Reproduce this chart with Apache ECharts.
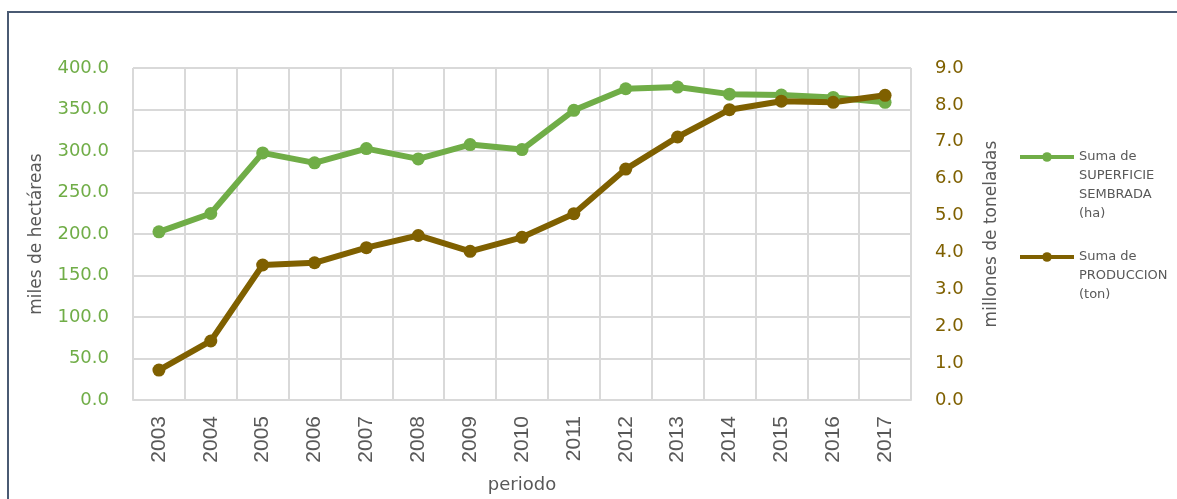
<!DOCTYPE html>
<html>
<head>
<meta charset="utf-8">
<script src="https://cdn.jsdelivr.net/npm/echarts@6/dist/echarts.min.js"></script>
<style>
html,body{margin:0;padding:0;background:#fff;}
#chart{width:1177px;height:499px;}
</style>
</head>
<body>
<div id="chart"></div>
<script>
const categories = ['2003','2004','2005','2006','2007','2008','2009','2010','2011','2012','2013','2014','2015','2016','2017'];
const superficie = [202.6, 224.7, 297.7, 285.7, 302.9, 290.5, 307.7, 301.7, 349.0, 375.0, 377.0, 368.5, 367.5, 364.5, 358.6];
const produccion = [0.81, 1.60, 3.66, 3.72, 4.13, 4.46, 4.03, 4.41, 5.05, 6.26, 7.13, 7.87, 8.10, 8.07, 8.26];
const nameSup = 'Suma de\nSUPERFICIE\nSEMBRADA\n(ha)';
const nameProd = 'Suma de\nPRODUCCION\n(ton)';

const GREEN = '#70AD47';
const BROWN = '#7F6000';
const GRAY = '#595959';
const GRID = '#D9D9D9';
const FONT = 'DejaVu Sans';

// prepend blank lines to a multi-line legend label so its first line sits level with the icon
function padLines(name) {
  const n = name.split('\n').length;
  let s = name;
  for (let i = 1; i < n; i++) s = ' \n' + s;
  return s;
}

const chart = echarts.init(document.getElementById('chart'), null, {renderer: 'canvas'});
const LH = 19;
const legendBase = {
  orient: 'vertical', left: 1018, padding: 0,
  itemWidth: 54, itemHeight: 12,
  lineStyle: {width: 4},
  formatter: padLines,
  textStyle: {fontFamily: FONT, fontSize: 13, color: GRAY, lineHeight: LH}
};
chart.setOption({
  backgroundColor: '#ffffff',
  animation: false,
  graphic: [{
    type: 'rect', silent: true,
    shape: {x: 8, y: 12, width: 1400, height: 700},
    style: {fill: 'none', stroke: '#4A5A73', lineWidth: 2}
  }],
  grid: {left: 133, right: 266, top: 68, bottom: 98, containLabel: false},
  legend: [
    Object.assign({}, legendBase, {data: [nameSup], top: 157 - 3.5 * LH}),
    Object.assign({}, legendBase, {data: [nameProd], top: 257 - 2.5 * LH})
  ],
  xAxis: {
    type: 'category', data: categories, boundaryGap: true,
    name: 'periodo', nameLocation: 'middle', nameGap: 76,
    nameTextStyle: {fontFamily: FONT, fontSize: 18, color: GRAY},
    axisLine: {show: true, lineStyle: {color: GRID, width: 2}},
    axisTick: {show: false},
    axisLabel: {rotate: 90, margin: 16, fontFamily: 'Liberation Sans', fontSize: 21, color: GRAY},
    splitLine: {show: true, lineStyle: {color: GRID, width: 2}}
  },
  yAxis: [{
    type: 'value', min: 0, max: 400, interval: 50, position: 'left',
    name: 'miles de hectáreas', nameLocation: 'middle', nameGap: 88, nameRotate: 90,
    nameTextStyle: {fontFamily: FONT, fontSize: 17, color: GRAY},
    axisLine: {show: false}, axisTick: {show: false},
    axisLabel: {margin: 24, fontFamily: FONT, fontSize: 18, color: GREEN,
      formatter: v => v.toFixed(1)},
    splitLine: {show: true, lineStyle: {color: GRID, width: 2}}
  }, {
    type: 'value', min: 0, max: 9, interval: 1, position: 'right',
    name: 'millones de toneladas', nameLocation: 'middle', nameGap: 72, nameRotate: 90,
    nameTextStyle: {fontFamily: FONT, fontSize: 17, color: GRAY},
    axisLine: {show: false}, axisTick: {show: false},
    axisLabel: {margin: 24, fontFamily: FONT, fontSize: 18, color: BROWN,
      formatter: v => v.toFixed(1)},
    splitLine: {show: false}
  }],
  series: [{
    name: nameSup, type: 'line', yAxisIndex: 0, data: superficie,
    symbol: 'circle', symbolSize: 13,
    lineStyle: {color: GREEN, width: 6}, itemStyle: {color: GREEN}
  }, {
    name: nameProd, type: 'line', yAxisIndex: 1, data: produccion,
    symbol: 'circle', symbolSize: 13,
    lineStyle: {color: BROWN, width: 6}, itemStyle: {color: BROWN}
  }]
});
</script>
</body>
</html>
